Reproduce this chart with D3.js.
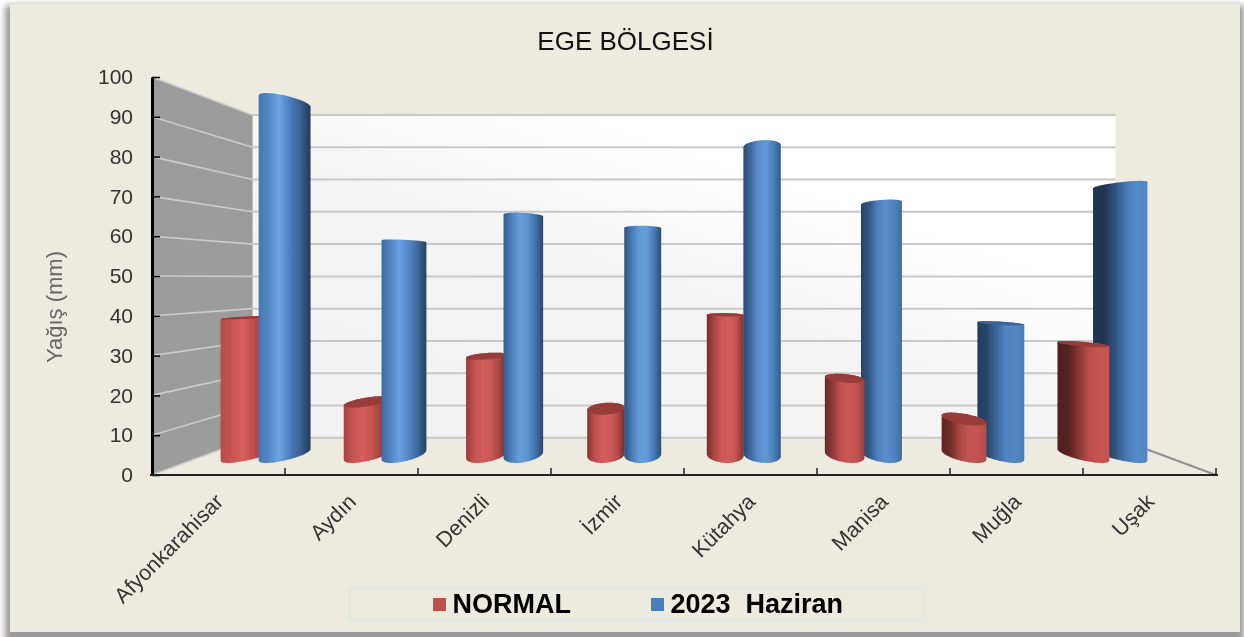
<!DOCTYPE html>
<html>
<head>
<meta charset="utf-8">
<title>EGE BÖLGESİ</title>
<script src="https://cdn.jsdelivr.net/npm/d3@7"></script>
<style>
    html, body { margin: 0; padding: 0; background: #fff; }
    svg { display: block; font-family: "Liberation Sans", Arial, sans-serif; filter: blur(0.45px); }
</style>
</head>
<body>
<div id="chart"></div>
<script>
// chart values
var categories = ['Afyonkarahisar', 'Aydın', 'Denizli', 'İzmir', 'Kütahya', 'Manisa', 'Muğla', 'Uşak'];
var seriesNames = ['NORMAL', '2023  Haziran'];
var normalValues = [38.4, 14.8, 27.6, 12.9, 39.2, 21.4, 10, 31];
var haziranValues = [99, 59.8, 67, 63.5, 86.4, 70.5, 36.8, 75.5];
var yTicks = [0, 10, 20, 30, 40, 50, 60, 70, 80, 90, 100];

var width = 1244, height = 637;
var svg = d3.select('#chart').append('svg').attr('width', width).attr('height', height);
var defs = svg.append('defs');

// scales on the front plane of the 3D box
var y = d3.scaleLinear().domain([0, 100]).range([475, 77]);
var x0 = d3.scaleBand().domain(categories).range([152, 1216]);
var x1 = d3.scaleBand().domain(seriesNames).range([-41, 41]);

// perspective: everything runs to one vanishing point
var vpX = 684, vpY = 278, persp = 0.233;
var project = function (wx, value, z) {
    var f = 1 / (1 + persp * z);
    return [vpX + (wx - vpX) * f, vpY + (y(value) - vpY) * f];
};

// panel with soft shadow
defs.append('filter').attr('id', 'soft').append('feGaussianBlur').attr('stdDeviation', 3);
svg.append('rect').attr('x', 5).attr('y', 5).attr('width', 1239).attr('height', 640)
    .attr('fill', '#9a9a9a').attr('filter', 'url(#soft)');
svg.append('rect').attr('x', 10).attr('y', 4).attr('width', 1230).attr('height', 628)
    .attr('fill', '#edebe0');

var plot = svg.append('g');

// back wall
var wallGrad = defs.append('linearGradient').attr('id', 'wall')
    .attr('x1', 1).attr('y1', 0.1).attr('x2', 0.3).attr('y2', 0.9);
wallGrad.append('stop').attr('offset', 0).attr('stop-color', '#ffffff');
wallGrad.append('stop').attr('offset', 0.3).attr('stop-color', '#ffffff');
wallGrad.append('stop').attr('offset', 0.65).attr('stop-color', '#f4f4f4');
wallGrad.append('stop').attr('offset', 1).attr('stop-color', '#f2f2f2');

var line = d3.line();
var backLeft = project(152, 100, 1), backRight = project(1216, 0, 1);
plot.append('rect')
    .attr('x', backLeft[0]).attr('y', backLeft[1])
    .attr('width', backRight[0] - backLeft[0]).attr('height', backRight[1] - backLeft[1])
    .attr('fill', 'url(#wall)');

// left wall
plot.append('path')
    .attr('d', line([project(152, 100, 0), project(152, 100, 1), project(152, 0, 1), project(152, 0, 0)]) + 'Z')
    .attr('fill', '#9c9c9c');

// gridlines on both walls
yTicks.forEach(function (t) {
    plot.append('path').attr('d', line([project(152, t, 1), project(1216, t, 1)]))
        .attr('fill', 'none').attr('stroke', '#c8c8c8').attr('stroke-width', 2);
    plot.append('path').attr('d', line([project(152, t, 0), project(152, t, 1)]))
        .attr('fill', 'none').attr('stroke', '#cccccc').attr('stroke-width', 1.6);
});

// floor edge on the right
plot.append('path').attr('d', line([project(1216, 0, 1), project(1216, 0, 0)]))
    .attr('fill', 'none').attr('stroke', '#8f8f8f').attr('stroke-width', 2);

// bar colours: dark, mid, light
var palettes = {
    'NORMAL': d3.scaleLinear().domain([0, 1, 2]).range(['#4f1f1d', '#c0504d', '#d8625f']),
    '2023  Haziran': d3.scaleLinear().domain([0, 1, 2]).range(['#1f3552', '#4a7ebb', '#71a9e8'])
};
var topColors = { 'NORMAL': '#983c39', '2023  Haziran': '#3a6496' };

// shade across the bar, changes with the position in the chart
var shadeOffsets = [0, 0.2, 0.4, 0.6, 0.8, 1];
var shadeAt = d3.piecewise(d3.interpolateArray, [
    [0.9, 1.3, 1.9, 1.0, 0.6, 0.05],
    [0.35, 0.9, 1.6, 1.8, 1.0, 0.35],
    [0, 0, 0.4, 0.9, 1.3, 1.2]
]);
var shadePos = d3.scaleLinear().domain([-465, 465]).range([0, 1]).clamp(true);

// one record per bar
var bars = [];
categories.forEach(function (c, i) {
    [normalValues[i], haziranValues[i]].forEach(function (v, s) {
        var name = seriesNames[s];
        bars.push({
            id: 'bar' + i + '_' + s,
            series: name,
            value: v,
            cx: x0(c) + x0.bandwidth() / 2 + x1(name) + x1.bandwidth() / 2
        });
    });
});
// outer bars first, inner ones paint over them
bars.sort(function (a, b) { return Math.abs(b.cx - vpX) - Math.abs(a.cx - vpX); });

var zMid = 0.5, zRad = 0.22;
var ringAngles = d3.range(0, 2 * Math.PI, Math.PI / 36);
var ring = function (d, value) {
    return ringAngles.map(function (t) {
        return project(d.cx + x1.bandwidth() / 2 * Math.cos(t), value, zMid + zRad * Math.sin(t));
    });
};

bars.forEach(function (d) {
    var shades = shadeAt(shadePos(d.cx - vpX));
    var grad = defs.append('linearGradient').attr('id', d.id);
    shades.forEach(function (s, k) {
        grad.append('stop').attr('offset', shadeOffsets[k]).attr('stop-color', palettes[d.series](s));
    });
    var hull = d3.polygonHull(ring(d, 0).concat(ring(d, d.value)));
    plot.append('path').attr('d', line(hull) + 'Z').attr('fill', 'url(#' + d.id + ')');
    // top face only shows below eye level
    if (y(d.value) > vpY) {
        plot.append('path').attr('d', line(ring(d, d.value)) + 'Z').attr('fill', topColors[d.series]);
    }
});

// axes
var yAxis = d3.axisLeft(y).tickValues(yTicks).tickSizeInner(-8).tickSizeOuter(0).tickPadding(19);
var yG = plot.append('g').attr('transform', 'translate(152,0)').call(yAxis);
yG.select('.domain').attr('stroke', '#000').attr('stroke-width', 3);
yG.selectAll('.tick line').attr('stroke', '#000').attr('stroke-width', 1.5);
yG.selectAll('text').attr('font-size', 21).attr('fill', '#333').attr('font-family', 'Liberation Sans');

plot.append('path').attr('d', line([[150, 475], [1218, 475]]))
    .attr('stroke', '#222').attr('stroke-width', 2);
d3.range(1, 9).forEach(function (i) {
    var tx = 152 + x0.step() * i;
    plot.append('path').attr('d', line([[tx, 468], [tx, 475]]))
        .attr('stroke', '#222').attr('stroke-width', 1.5);
});

// category labels
categories.forEach(function (c) {
    plot.append('text')
        .attr('transform', 'translate(' + (x0(c) + x0.bandwidth() / 2 + 6) + ',503) rotate(-45)')
        .attr('text-anchor', 'end')
        .attr('font-size', 21.5).attr('fill', '#333')
        .text(c);
});

// titles
plot.append('text').attr('x', 625.5).attr('y', 50).attr('text-anchor', 'middle')
    .attr('font-size', 26).attr('fill', '#111').text('EGE BÖLGESİ');
plot.append('text').attr('transform', 'translate(62,307) rotate(-90)').attr('text-anchor', 'middle')
    .attr('font-size', 22).attr('fill', '#666').text('Yağış (mm)');

// legend
plot.append('rect').attr('x', 349.5).attr('y', 587.5).attr('width', 574).attr('height', 33)
    .attr('fill', 'none').attr('stroke', '#dde6ee').attr('stroke-width', 1.5);
var legendX = d3.scaleOrdinal().domain(seriesNames).range([433, 651]);
seriesNames.forEach(function (name) {
    plot.append('rect').attr('x', legendX(name)).attr('y', 598).attr('width', 13).attr('height', 13)
        .attr('fill', palettes[name](1));
    plot.append('text').attr('x', legendX(name) + 19.5).attr('y', 613)
        .attr('font-size', 27).attr('font-weight', 'bold').attr('fill', '#000')
        .attr('xml:space', 'preserve').style('white-space', 'pre')
        .text(name);
});
</script>
</body>
</html>
